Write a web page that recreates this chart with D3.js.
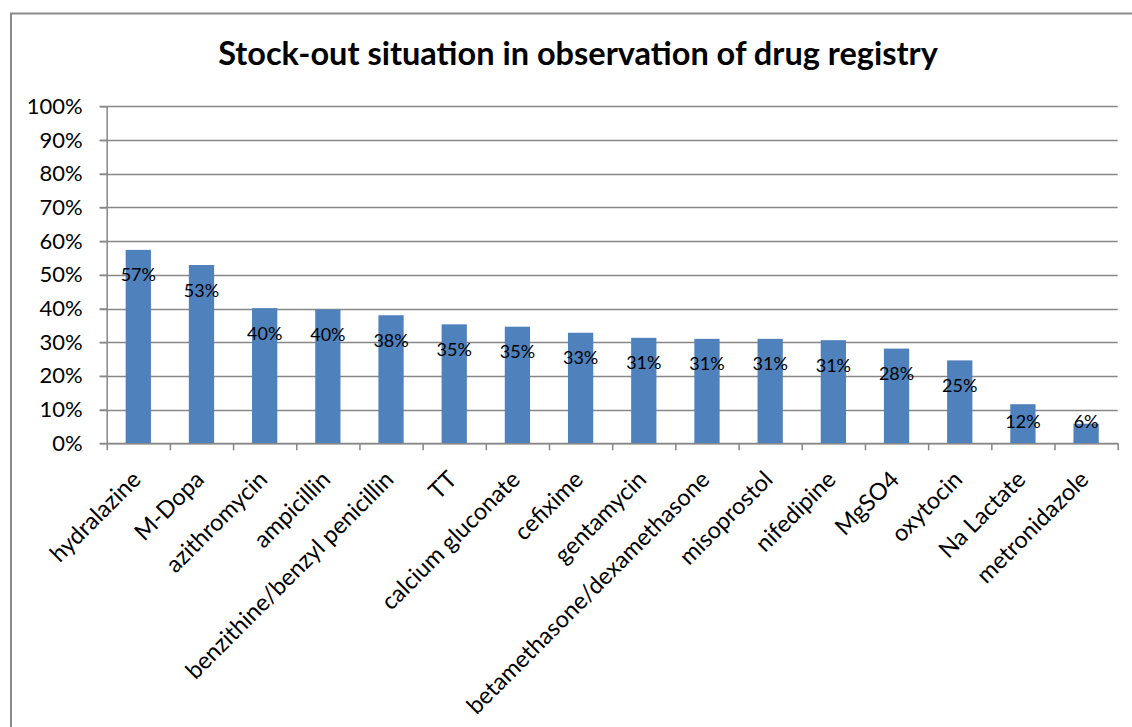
<!DOCTYPE html>
<html>
<head>
<meta charset="utf-8">
<script src="https://cdn.jsdelivr.net/npm/d3@7"></script>
<style>
  html, body { margin: 0; padding: 0; background: #fff; }
  svg { display: block; font-family: Lato, "Open Sans", sans-serif; }
</style>
</head>
<body>
<svg id="chart" width="1132" height="727"></svg>
<script>
// Drug names, in the order they are shown
const drugs = [
  "hydralazine", "M-Dopa", "azithromycin", "ampicillin",
  "benzithine/benzyl penicillin", "TT", "calcium gluconate", "cefixime",
  "gentamycin", "betamethasone/dexamethasone", "misoprostol", "nifedipine",
  "MgSO4", "oxytocin", "Na Lactate", "metronidazole"
];
// Share of observations with a stock-out
const stockOut = [
  0.574, 0.529, 0.401, 0.397,
  0.380, 0.353, 0.346, 0.328,
  0.313, 0.310, 0.310, 0.306,
  0.281, 0.246, 0.116, 0.058
];
const yTicks = [0, 0.1, 0.2, 0.3, 0.4, 0.5, 0.6, 0.7, 0.8, 0.9, 1.0];
const chartTitle = "Stock-out situation in observation of drug registry";

const data = drugs.map((name, i) => ({ name, value: stockOut[i] }));

const svg = d3.select("#chart");
const plot = { left: 106.7, right: 1117.7, top: 106.3, bottom: 443.3 };
const gridColor = "#878787";

// outer chart frame
svg.append("rect")
  .attr("x", 11).attr("y", 13.5)
  .attr("width", 1140).attr("height", 740)
  .attr("fill", "none")
  .attr("stroke", "#8a8a8a")
  .attr("stroke-width", 2);

// title
svg.append("text")
  .attr("x", 578).attr("y", 65)
  .attr("text-anchor", "middle")
  .attr("font-weight", "bold")
  .attr("font-size", 32.5)
  .attr("fill", "#000")
  .text(chartTitle);

const x = d3.scaleBand()
  .domain(drugs)
  .range([plot.left, plot.right])
  .paddingInner(0.6)
  .paddingOuter(0.3);

const y = d3.scaleLinear().domain([0, 1]).range([plot.bottom, plot.top]);

// horizontal gridlines
svg.append("g")
  .selectAll("line")
  .data(yTicks)
  .join("line")
  .attr("x1", plot.left - 7).attr("x2", plot.right)
  .attr("y1", d => Math.round(y(d)) + 0.5)
  .attr("y2", d => Math.round(y(d)) + 0.5)
  .attr("stroke", gridColor)
  .attr("stroke-width", 1.5);

// y axis
const yAxis = svg.append("g")
  .attr("transform", `translate(${plot.left},0)`)
  .call(d3.axisLeft(y)
    .tickValues(yTicks)
    .tickFormat(d3.format(".0%"))
    .tickSizeInner(7)
    .tickSizeOuter(0)
    .tickPadding(17));
yAxis.select(".domain").attr("stroke", gridColor).attr("stroke-width", 1.5);
yAxis.selectAll(".tick line").attr("stroke", gridColor).attr("stroke-width", 1.5);
yAxis.selectAll(".tick text")
  .attr("font-size", 22)
  .attr("font-family", "Lato, sans-serif")
  .attr("fill", "#000");

// bars
svg.append("g")
  .selectAll("rect")
  .data(data)
  .join("rect")
  .attr("x", d => x(d.name))
  .attr("width", x.bandwidth())
  .attr("y", d => y(d.value))
  .attr("height", d => y(0) - y(d.value))
  .attr("fill", "#4f81bd");

// x axis with tick marks on category boundaries
const xEdge = d3.scaleLinear().domain([0, drugs.length]).range([plot.left, plot.right]);
const xAxis = svg.append("g")
  .attr("transform", `translate(0,${plot.bottom})`)
  .call(d3.axisBottom(xEdge)
    .tickValues(d3.range(drugs.length + 1))
    .tickFormat("")
    .tickSizeInner(7)
    .tickSizeOuter(0));
xAxis.select(".domain").attr("stroke", gridColor).attr("stroke-width", 1.5);
xAxis.selectAll(".tick line").attr("stroke", gridColor).attr("stroke-width", 1.5);

// rotated category labels
svg.append("g")
  .selectAll("text")
  .data(data)
  .join("text")
  .attr("transform", d => {
    const cx = x(d.name) + x.bandwidth() / 2 + 4;
    return `translate(${cx},481) rotate(-45)`;
  })
  .attr("text-anchor", "end")
  .attr("font-size", 23.5)
  .attr("fill", "#000")
  .text(d => d.name);

// value labels inside the top of each bar
const pct = d3.format(".0%");
svg.append("g")
  .selectAll("text")
  .data(data)
  .join("text")
  .attr("x", d => x(d.name) + x.bandwidth() / 2)
  .attr("y", d => Math.min(y(d.value) + 25, plot.bottom - 22))
  .attr("dy", "0.36em")
  .attr("text-anchor", "middle")
  .attr("font-size", 18)
  .attr("fill", "#000")
  .text(d => pct(d.value));
</script>
</body>
</html>
